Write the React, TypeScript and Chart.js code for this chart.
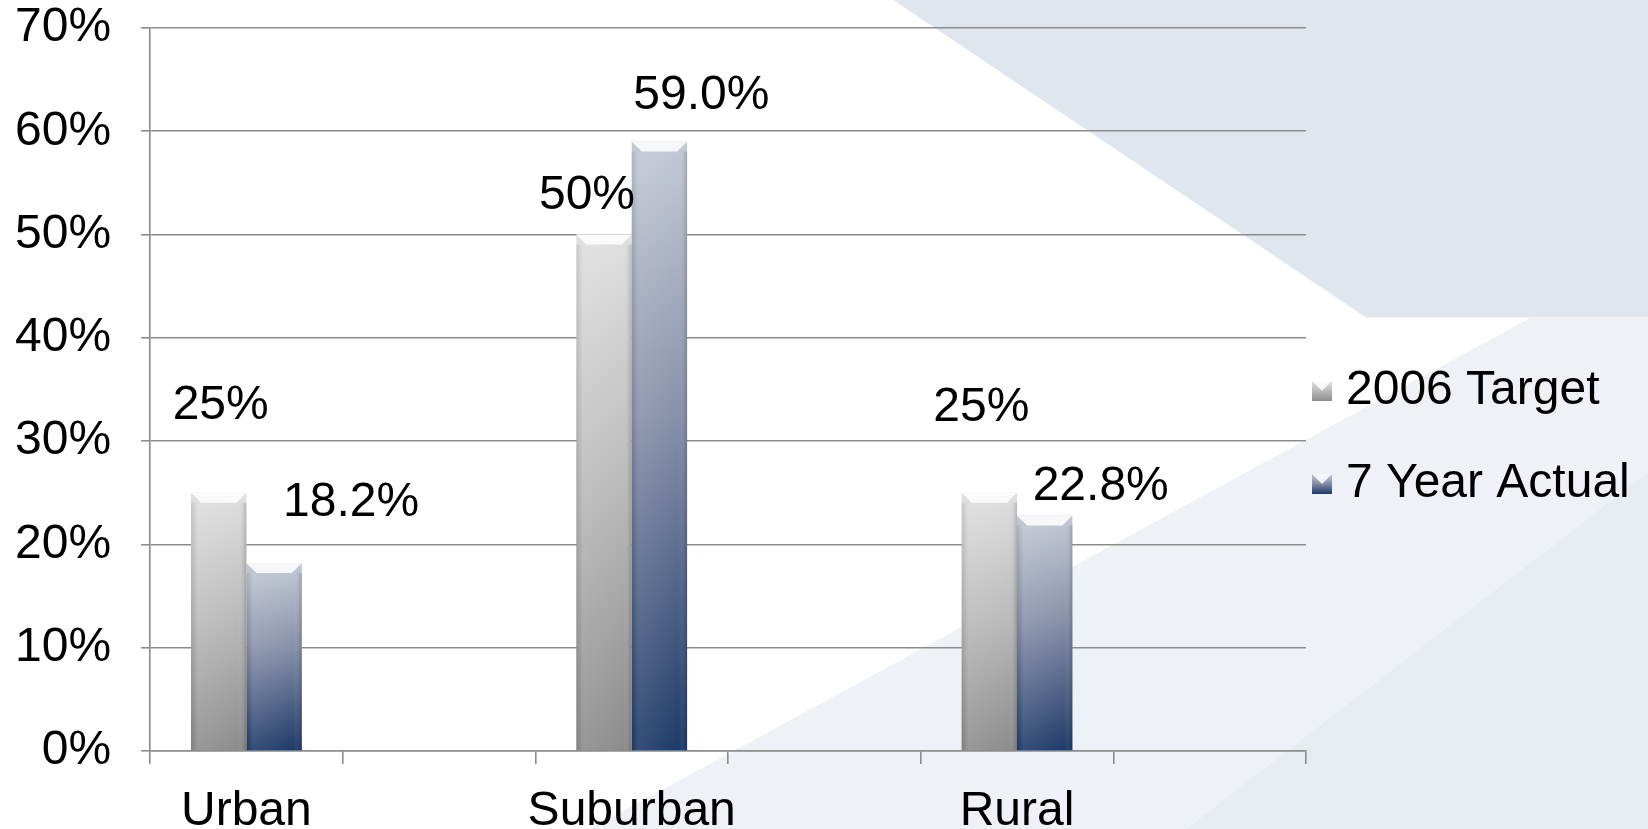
import React, { useEffect, useRef } from 'react';
import { Chart, registerables } from 'chart.js';

Chart.register(...registerables);

// ---------- data ----------
const CATEGORIES: string[] = ['Urban', '', 'Suburban', '', 'Rural', ''];
const TARGET_2006: (number | null)[] = [25, null, 50, null, 25, null];
const ACTUAL_7YR: (number | null)[] = [18.2, null, 59.0, null, 22.8, null];
const SERIES_NAMES: string[] = ['2006 Target', '7 Year Actual'];
const LABEL_DECIMALS: number[] = [0, 1];
const Y_TICKS: number[] = [0, 10, 20, 30, 40, 50, 60, 70];

// manual label placement (offset from the bar top centre), like dragged data labels
const LABEL_SHIFT: number[][][] = [
  [[2, -87], [0, 0], [-17, -39], [0, 0], [-8, -85], [0, 0]],
  [[77, -60], [0, 0], [42, -46], [0, 0], [56, -29], [0, 0]],
];

const FONT = '"Liberation Sans", Arial, "DejaVu Sans", sans-serif';
const FONT_SIZE = 48;
const GRID = '#8c8c8c';

const STOPS: [number, string][][] = [
  [[0, '#e0e0e0'], [0.5, '#b9b9b9'], [1, '#8c8c8c']],
  [[0, '#c3cad6'], [0.45, '#8890aa'], [1, '#1d3a68']],
];

function gradient(ctx: CanvasRenderingContext2D, top: number, bottom: number, idx: number) {
  const g = ctx.createLinearGradient(0, top, 0, bottom);
  STOPS[idx].forEach(([o, c]) => g.addColorStop(o, c));
  return g;
}

const backgroundPlugin = {
  id: 'slideBackground',
  beforeDraw(chart: any) {
    const { ctx, width: w, height: h } = chart;
    ctx.save();
    ctx.fillStyle = '#ffffff';
    ctx.fillRect(0, 0, w, h);
    // upper right darker panel
    ctx.fillStyle = '#dfe6ee';
    ctx.beginPath();
    ctx.moveTo(w * 0.542, 0);
    ctx.lineTo(w, 0);
    ctx.lineTo(w, h * 0.383);
    ctx.lineTo(w * 0.829, h * 0.383);
    ctx.closePath();
    ctx.fill();
    // lower right light panel
    ctx.fillStyle = '#eef2f6';
    ctx.beginPath();
    ctx.moveTo(w * 0.358, h);
    ctx.lineTo(w * 0.929, h * 0.383);
    ctx.lineTo(w, h * 0.383);
    ctx.lineTo(w, h);
    ctx.closePath();
    ctx.fill();
    // faint bottom-right band
    ctx.fillStyle = '#e7ebf2';
    ctx.beginPath();
    ctx.moveTo(w * 0.72, h);
    ctx.lineTo(w, h * 0.57);
    ctx.lineTo(w, h);
    ctx.closePath();
    ctx.fill();
    ctx.restore();
  },
};

const bevelPlugin = {
  id: 'barBevel',
  afterDatasetsDraw(chart: any) {
    const { ctx } = chart;
    chart.data.datasets.forEach((ds: any, di: number) => {
      const meta = chart.getDatasetMeta(di);
      meta.data.forEach((el: any, i: number) => {
        if (ds.data[i] == null) return;
        const { x, y, base, width } = el.getProps(['x', 'y', 'base', 'width'], true);
        const l = x - width / 2;
        const r = x + width / 2;
        const b = 10;
        ctx.save();
        ctx.fillStyle = 'rgba(255,255,255,0.85)';
        ctx.beginPath();
        ctx.moveTo(l, y);
        ctx.lineTo(r, y);
        ctx.lineTo(r - b, y + b);
        ctx.lineTo(l + b, y + b);
        ctx.closePath();
        ctx.fill();
        const sg = ctx.createLinearGradient(l, 0, r, 0);
        sg.addColorStop(0, 'rgba(0,0,0,0.10)');
        sg.addColorStop(0.12, 'rgba(255,255,255,0.10)');
        sg.addColorStop(0.85, 'rgba(255,255,255,0)');
        sg.addColorStop(1, 'rgba(0,0,0,0.18)');
        ctx.fillStyle = sg;
        ctx.fillRect(l, y + b, width, base - y - b);
        ctx.restore();
      });
    });
  },
};

const labelPlugin = {
  id: 'valueLabels',
  afterDatasetsDraw(chart: any) {
    const { ctx } = chart;
    ctx.save();
    ctx.font = `${FONT_SIZE}px ${FONT}`;
    ctx.fillStyle = '#000000';
    ctx.textAlign = 'center';
    ctx.textBaseline = 'middle';
    chart.data.datasets.forEach((ds: any, di: number) => {
      const meta = chart.getDatasetMeta(di);
      meta.data.forEach((el: any, i: number) => {
        const v = ds.data[i];
        if (v == null) return;
        const { x, y } = el.getProps(['x', 'y'], true);
        const [dx, dy] = LABEL_SHIFT[di][i];
        ctx.fillText(v.toFixed(LABEL_DECIMALS[di]) + '%', x + dx, y + dy);
      });
    });
    ctx.restore();
  },
};

const legendPlugin = {
  id: 'sideLegend',
  afterDraw(chart: any) {
    const { ctx, chartArea } = chart;
    const spacing = 93;
    ctx.save();
    ctx.font = `${FONT_SIZE}px ${FONT}`;
    ctx.textAlign = 'left';
    ctx.textBaseline = 'middle';
    chart.data.datasets.forEach((ds: any, di: number) => {
      const cy = chart.height / 2 + 23 + (di - 0.5) * spacing;
      const bx = chartArea.right + 6;
      const s = 20;
      ctx.fillStyle = gradient(ctx, cy - s / 2, cy + s / 2, di);
      ctx.fillRect(bx, cy - s / 2, s, s);
      ctx.fillStyle = 'rgba(255,255,255,0.85)';
      ctx.beginPath();
      ctx.moveTo(bx, cy - s / 2);
      ctx.lineTo(bx + s, cy - s / 2);
      ctx.lineTo(bx + s / 2, cy);
      ctx.closePath();
      ctx.fill();
      ctx.fillStyle = '#000000';
      ctx.fillText(ds.label, bx + 34, cy);
    });
    ctx.restore();
  },
};

export default function App() {
  const ref = useRef<HTMLCanvasElement | null>(null);

  useEffect(() => {
    if (!ref.current) return;
    const barColor = (idx: number) => (c: any) => {
      const chart = c.chart;
      const v = c.raw;
      if (!chart.chartArea || v == null || !chart.scales.y) return STOPS[idx][1][1];
      const y = chart.scales.y;
      return gradient(chart.ctx, y.getPixelForValue(v), y.getPixelForValue(0), idx);
    };
    const chart = new Chart(ref.current, {
      type: 'bar',
      data: {
        labels: CATEGORIES,
        datasets: [
          { label: SERIES_NAMES[0], data: TARGET_2006, backgroundColor: barColor(0), borderWidth: 0 },
          { label: SERIES_NAMES[1], data: ACTUAL_7YR, backgroundColor: barColor(1), borderWidth: 0 },
        ],
      },
      plugins: [backgroundPlugin, bevelPlugin, labelPlugin, legendPlugin],
      options: {
        animation: false,
        responsive: true,
        maintainAspectRatio: false,
        layout: { padding: { left: -15, right: 342, top: 28, bottom: -31 } },
        datasets: { bar: { barPercentage: 1, categoryPercentage: 0.575 } },
        plugins: { legend: { display: false }, tooltip: { enabled: false } },
        scales: {
          x: {
            grid: {
              display: true,
              drawOnChartArea: false,
              drawTicks: true,
              tickLength: 13,
              color: GRID,
              lineWidth: 1.6,
              offset: true,
            },
            border: { display: true, color: GRID, width: 1.6 },
            ticks: {
              autoSkip: false,
              maxRotation: 0,
              padding: 24,
              color: '#000000',
              font: { family: FONT, size: FONT_SIZE, lineHeight: 1 },
            },
          },
          y: {
            min: 0,
            max: 70,
            afterBuildTicks: (axis: any) => {
              axis.ticks = Y_TICKS.map((v) => ({ value: v }));
            },
            afterFit: (axis: any) => {
              axis.paddingTop = 0;
            },
            grid: { color: GRID, lineWidth: 1.6, tickLength: 9, drawTicks: true },
            border: { display: true, color: GRID, width: 1.6 },
            ticks: {
              padding: 30,
              color: '#000000',
              font: { family: FONT, size: FONT_SIZE, lineHeight: 1 },
              callback: (v: any) => v + '%',
            },
          },
        },
      },
    });
    return () => chart.destroy();
  }, []);

  return (
    <div style={{ position: 'fixed', left: 0, top: 0, width: '1648px', height: '829px' }}>
      <canvas ref={ref} />
    </div>
  );
}
